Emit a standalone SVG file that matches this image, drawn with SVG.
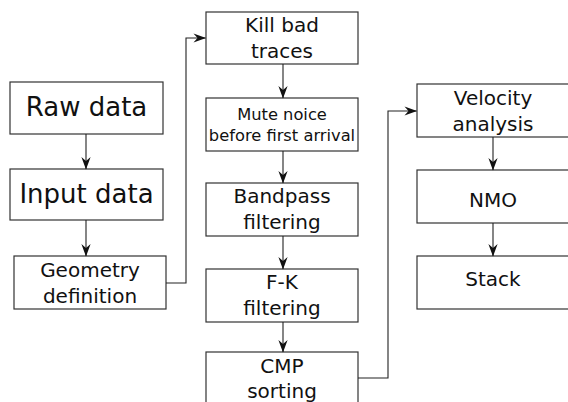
<svg xmlns="http://www.w3.org/2000/svg" width="568" height="402" viewBox="0 0 568 402">
<style>
.box{fill:#fff;stroke:#333;stroke-width:1.2}
.t{font-family:"DejaVu Sans",sans-serif;fill:#111;text-anchor:middle}
.c{fill:none;stroke:#222;stroke-width:1.1}
</style>
<defs>
<marker id="ah" viewBox="-13 -6 14 12" refX="0" refY="0" markerWidth="14" markerHeight="12" markerUnits="userSpaceOnUse" orient="auto">
<path d="M0.5,0 L-12,-4.6 L-8,0 L-12,4.6 z" fill="#111"/>
</marker>
</defs>
<rect width="568" height="402" fill="#fff"/>
<g id="raw"><rect class="box" x="10" y="82" width="153" height="52"/><text class="t" x="86.5" y="116" font-size="26">Raw data</text></g>
<g id="input"><rect class="box" x="10" y="169" width="153" height="51"/><text class="t" x="86.5" y="203" font-size="26">Input data</text></g>
<g id="geometry"><rect class="box" x="14" y="256" width="152" height="53"/><text class="t" x="90" y="277" font-size="20">Geometry</text><text class="t" x="90" y="303" font-size="20">definition</text></g>
<g id="kill"><rect class="box" x="206" y="12" width="152" height="52"/><text class="t" x="282" y="32" font-size="20">Kill bad</text><text class="t" x="282" y="58" font-size="20">traces</text></g>
<g id="mute"><rect class="box" x="206" y="98" width="152" height="53"/><text class="t" x="282" y="119.5" font-size="16.3">Mute noice</text><text class="t" x="282" y="141" font-size="16.3">before first arrival</text></g>
<g id="bandpass"><rect class="box" x="206" y="183" width="152" height="53"/><text class="t" x="282" y="203" font-size="20">Bandpass</text><text class="t" x="282" y="229" font-size="20">filtering</text></g>
<g id="fk"><rect class="box" x="206" y="269" width="152" height="53"/><text class="t" x="282" y="289" font-size="20">F-K</text><text class="t" x="282" y="315" font-size="20">filtering</text></g>
<g id="cmp"><rect class="box" x="206" y="352" width="152" height="60"/><text class="t" x="282" y="373" font-size="20">CMP</text><text class="t" x="282" y="398" font-size="20">sorting</text></g>
<g id="velocity"><rect class="box" x="417" y="84" width="152" height="53"/><text class="t" x="493" y="105" font-size="20">Velocity</text><text class="t" x="493" y="131" font-size="20">analysis</text></g>
<g id="nmo"><rect class="box" x="417" y="170" width="152" height="53"/><text class="t" x="493" y="207" font-size="20">NMO</text></g>
<g id="stack"><rect class="box" x="417" y="256" width="152" height="53"/><text class="t" x="493" y="286" font-size="20">Stack</text></g>
<g id="connectors">
<path class="c" d="M86,134 V169" marker-end="url(#ah)"/>
<path class="c" d="M86,220 V256" marker-end="url(#ah)"/>
<path class="c" d="M283,64 V98" marker-end="url(#ah)"/>
<path class="c" d="M283,151 V183" marker-end="url(#ah)"/>
<path class="c" d="M283,236 V269" marker-end="url(#ah)"/>
<path class="c" d="M283,322 V352" marker-end="url(#ah)"/>
<path class="c" d="M493,137 V170" marker-end="url(#ah)"/>
<path class="c" d="M493,223 V256" marker-end="url(#ah)"/>
<path class="c" d="M166,283 H186 V38 H205.5" marker-end="url(#ah)"/>
<path class="c" d="M358,378 H388 V111 H416.5" marker-end="url(#ah)"/>
</g>
</svg>
